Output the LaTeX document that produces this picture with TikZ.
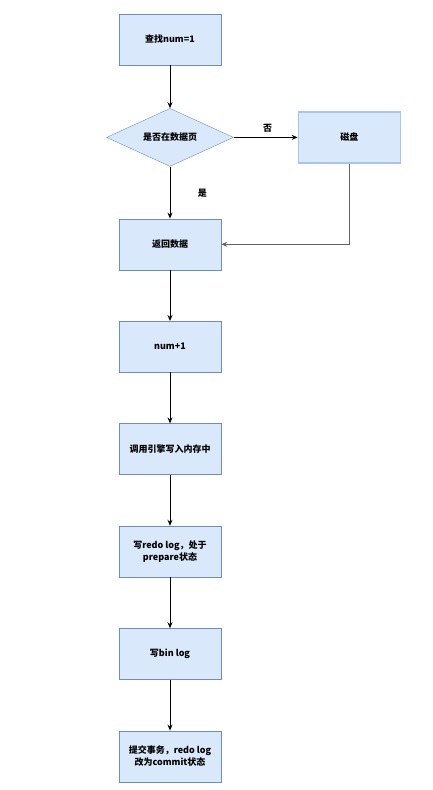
\documentclass[tikz,border=0pt]{standalone}
\usepackage{fontspec}
\setmainfont{Noto Sans CJK SC}
\usetikzlibrary{arrows.meta, positioning, shapes.geometric}

\definecolor{boxfill}{HTML}{DAE8FC}
\definecolor{boxline}{HTML}{6C8EBF}
\definecolor{diskline}{HTML}{A9C4EB}

\begin{document}
\begin{tikzpicture}[
    x=1pt, y=-1pt,
    node distance=51pt,
    every node/.style={font=\fontsize{9}{12}\selectfont\bfseries},
    box/.style={rectangle, draw=boxline, fill=boxfill, minimum width=102pt, minimum height=51pt, align=center, inner sep=2pt},
    decision/.style={diamond, draw=boxline, fill=boxfill, minimum width=127pt, minimum height=58pt, aspect=2.2, inner sep=0pt},
    arrow/.style={-{Stealth[length=6pt, width=5pt]}, line width=0.9pt},
    label/.style={font=\fontsize{9}{11}\selectfont\bfseries}
]
\useasboundingbox (0,0) rectangle (433,790);

% ============ MAIN FLOW ============
\node[box] (find) at (170, 39.5) {查找num=1};
\node[decision, below=43pt of find] (inpage) {是否在数据页};
\node[box, below=52pt of inpage] (ret) {返回数据};
\node[box, below=of ret] (incr) {num+1};
\node[box, below=of incr] (mem) {调用引擎写入内存中};
\node[box, below=of mem] (redo) {写redo log，处于\\prepare状态};
\node[box, below=of redo] (binlog) {写bin log};
\node[box, below=of binlog] (commit) {提交事务，redo log\\改为commit状态};

% ============ DISK ============
\node[box, draw=diskline, line width=1.2pt, right=64pt of inpage] (disk) {磁盘};

% ============ ARROWS ============
\draw[arrow] (find) -- (inpage);
\draw[arrow] (inpage) -- node[label, right=24pt, pos=0.52] {是} (ret);
\draw[arrow] (inpage) -- node[label, above=1pt, xshift=2pt] {否} (disk);
\draw[arrow, gray!80!black] (disk.south) |- (ret.east);
\draw[arrow] (ret) -- (incr);
\draw[arrow] (incr) -- (mem);
\draw[arrow] (mem) -- (redo);
\draw[arrow] (redo) -- (binlog);
\draw[arrow] (binlog) -- (commit);

\end{tikzpicture}
\end{document}
